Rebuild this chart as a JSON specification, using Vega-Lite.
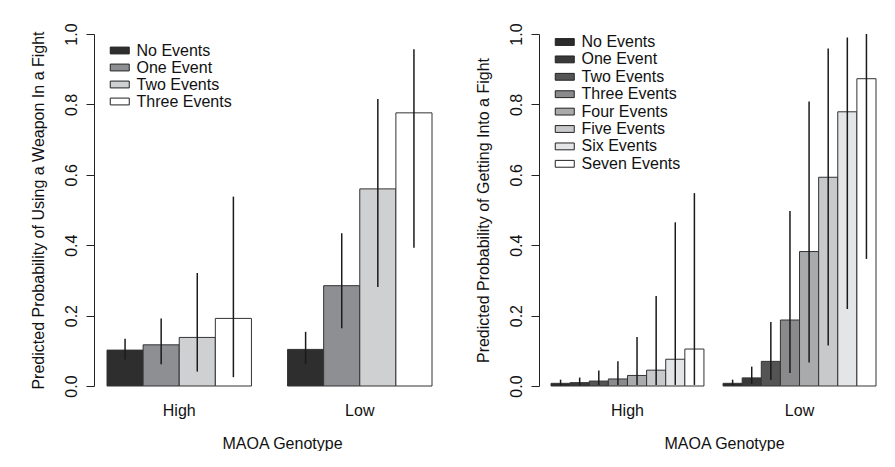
{
  "$schema": "https://vega.github.io/schema/vega-lite/v6.json",
  "background": "white",
  "padding": {"left": 30, "top": 22, "right": 0, "bottom": 0},
  "spacing": 42,
  "resolve": {
    "scale": {"x": "independent", "xOffset": "independent", "fill": "independent", "y": "independent"},
    "legend": {"fill": "independent"}
  },
  "config": {
    "font": "Liberation Sans",
    "view": {"stroke": null},
    "axis": {
      "labelFont": "Liberation Sans",
      "titleFont": "Liberation Sans",
      "labelFontSize": 16,
      "titleFontSize": 16,
      "titleFontWeight": "normal",
      "labelColor": "#111111",
      "titleColor": "#111111",
      "domainColor": "#222222",
      "tickColor": "#222222",
      "grid": false
    },
    "legend": {
      "labelFont": "Liberation Sans",
      "labelFontSize": 16,
      "labelColor": "#111111",
      "padding": 0,
      "symbolType": "M-2,-0.72H2V0.72H-2Z",
      "symbolSize": 90.25,
      "symbolStrokeColor": "#222222",
      "symbolStrokeWidth": 1,
      "symbolOpacity": 1,
      "labelOffset": 8.75,
      "rowPadding": 1
    }
  },
  "hconcat": [
    {
      "width": 325,
      "height": 352,
      "data": {
        "values": [
          {"genotype": "High", "events": "No Events", "p": 0.102, "lo": 0.075, "hi": 0.134},
          {"genotype": "High", "events": "One Event", "p": 0.117, "lo": 0.062, "hi": 0.192},
          {"genotype": "High", "events": "Two Events", "p": 0.138, "lo": 0.041, "hi": 0.321},
          {"genotype": "High", "events": "Three Events", "p": 0.192, "lo": 0.025, "hi": 0.538},
          {"genotype": "Low", "events": "No Events", "p": 0.104, "lo": 0.062, "hi": 0.154},
          {"genotype": "Low", "events": "One Event", "p": 0.285, "lo": 0.164, "hi": 0.434},
          {"genotype": "Low", "events": "Two Events", "p": 0.56, "lo": 0.281, "hi": 0.815},
          {"genotype": "Low", "events": "Three Events", "p": 0.776, "lo": 0.393, "hi": 0.957}
        ]
      },
      "layer": [
        {
          "mark": {"type": "bar", "stroke": "#333333", "strokeWidth": 1},
          "encoding": {
            "x": {
              "field": "genotype", "type": "nominal",
              "scale": {"paddingInner": 0.2, "paddingOuter": 0},
              "axis": {"title": "MAOA Genotype", "labelAngle": 0, "domain": false, "ticks": false, "labelPadding": 16, "titlePadding": 17, "titleX": 175}
            },
            "xOffset": {
              "field": "events", "type": "nominal",
              "sort": ["No Events", "One Event", "Two Events", "Three Events"],
              "scale": {"paddingInner": 0, "paddingOuter": 0}
            },
            "y": {
              "field": "p", "type": "quantitative",
              "scale": {"domain": [0, 1], "nice": false},
              "axis": {
                "title": "Predicted Probability of Using a Weapon In a Fight",
                "values": [0, 0.2, 0.4, 0.6, 0.8, 1.0], "format": ".1f",
                "labelAngle": -90, "labelAlign": "center", "labelBaseline": "bottom",
                "offset": 13, "tickSize": 8, "labelPadding": 7, "titlePadding": 17
              }
            },
            "fill": {
              "field": "events", "type": "nominal",
              "sort": ["No Events", "One Event", "Two Events", "Three Events"],
              "scale": {
                "domain": ["No Events", "One Event", "Two Events", "Three Events"],
                "range": ["#2e2e2e", "#8e8f93", "#cfd0d2", "#ffffff"]
              },
              "legend": {"title": null, "orient": "none", "legendX": 4.75, "legendY": 8.5}
            }
          }
        },
        {
          "mark": {"type": "rule", "color": "#1a1a1a", "strokeWidth": 1.5},
          "encoding": {
            "x": {"field": "genotype", "type": "nominal"},
            "xOffset": {"field": "events", "type": "nominal", "sort": ["No Events", "One Event", "Two Events", "Three Events"]},
            "y": {"field": "lo", "type": "quantitative"},
            "y2": {"field": "hi"}
          }
        }
      ]
    },
    {
      "width": 325,
      "height": 352,
      "data": {
        "values": [
          {"genotype": "High", "events": "No Events", "p": 0.0076, "lo": 0.002, "hi": 0.018},
          {"genotype": "High", "events": "One Event", "p": 0.0095, "lo": 0.002, "hi": 0.024},
          {"genotype": "High", "events": "Two Events", "p": 0.014, "lo": 0.003, "hi": 0.044},
          {"genotype": "High", "events": "Three Events", "p": 0.02, "lo": 0.003, "hi": 0.07},
          {"genotype": "High", "events": "Four Events", "p": 0.03, "lo": 0.003, "hi": 0.139},
          {"genotype": "High", "events": "Five Events", "p": 0.045, "lo": 0.003, "hi": 0.256},
          {"genotype": "High", "events": "Six Events", "p": 0.076, "lo": 0.003, "hi": 0.465},
          {"genotype": "High", "events": "Seven Events", "p": 0.105, "lo": 0.003, "hi": 0.548},
          {"genotype": "Low", "events": "No Events", "p": 0.0076, "lo": 0.002, "hi": 0.018},
          {"genotype": "Low", "events": "One Event", "p": 0.023, "lo": 0.006, "hi": 0.055},
          {"genotype": "Low", "events": "Two Events", "p": 0.07, "lo": 0.017, "hi": 0.182},
          {"genotype": "Low", "events": "Three Events", "p": 0.1875, "lo": 0.037, "hi": 0.497},
          {"genotype": "Low", "events": "Four Events", "p": 0.382, "lo": 0.067, "hi": 0.808},
          {"genotype": "Low", "events": "Five Events", "p": 0.593, "lo": 0.115, "hi": 0.959},
          {"genotype": "Low", "events": "Six Events", "p": 0.779, "lo": 0.219, "hi": 0.99},
          {"genotype": "Low", "events": "Seven Events", "p": 0.873, "lo": 0.361, "hi": 1.0}
        ]
      },
      "layer": [
        {
          "mark": {"type": "bar", "stroke": "#333333", "strokeWidth": 1},
          "encoding": {
            "x": {
              "field": "genotype", "type": "nominal",
              "scale": {"paddingInner": 0.111, "paddingOuter": 0},
              "axis": {"title": "MAOA Genotype", "labelAngle": 0, "domain": false, "ticks": false, "labelPadding": 16, "titlePadding": 17, "titleX": 173}
            },
            "xOffset": {
              "field": "events", "type": "nominal",
              "sort": ["No Events", "One Event", "Two Events", "Three Events", "Four Events", "Five Events", "Six Events", "Seven Events"],
              "scale": {"paddingInner": 0, "paddingOuter": 0}
            },
            "y": {
              "field": "p", "type": "quantitative",
              "scale": {"domain": [0, 1], "nice": false},
              "axis": {
                "title": "Predicted Probability of Getting Into a Fight",
                "values": [0, 0.2, 0.4, 0.6, 0.8, 1.0], "format": ".1f",
                "labelAngle": -90, "labelAlign": "center", "labelBaseline": "bottom",
                "offset": 12, "tickSize": 8, "labelPadding": 7, "titlePadding": 17
              }
            },
            "fill": {
              "field": "events", "type": "nominal",
              "sort": ["No Events", "One Event", "Two Events", "Three Events", "Four Events", "Five Events", "Six Events", "Seven Events"],
              "scale": {
                "domain": ["No Events", "One Event", "Two Events", "Three Events", "Four Events", "Five Events", "Six Events", "Seven Events"],
                "range": ["#2b2b2b", "#393939", "#545454", "#8a8a8c", "#a9aaac", "#c8c9cb", "#e4e5e6", "#ffffff"]
              },
              "legend": {"title": null, "orient": "none", "legendX": 5.75, "legendY": 0, "rowPadding": 1.4}
            }
          }
        },
        {
          "mark": {"type": "rule", "color": "#1a1a1a", "strokeWidth": 1.5},
          "encoding": {
            "x": {"field": "genotype", "type": "nominal"},
            "xOffset": {"field": "events", "type": "nominal", "sort": ["No Events", "One Event", "Two Events", "Three Events", "Four Events", "Five Events", "Six Events", "Seven Events"]},
            "y": {"field": "lo", "type": "quantitative"},
            "y2": {"field": "hi"}
          }
        }
      ]
    }
  ]
}
